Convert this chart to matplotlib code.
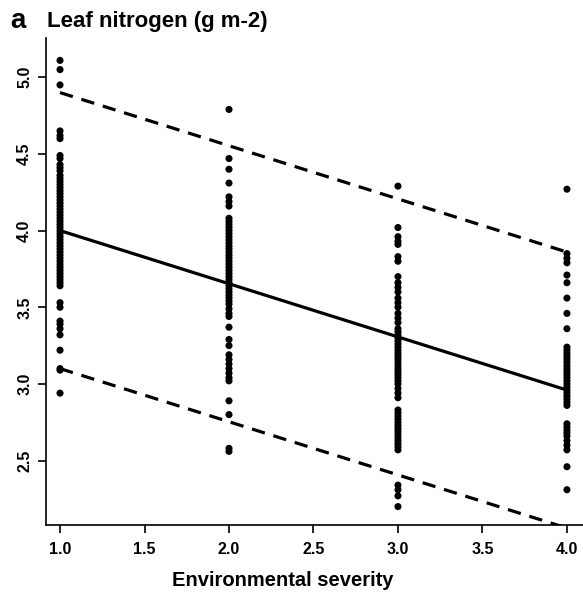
import matplotlib
matplotlib.use("Agg")
import matplotlib.pyplot as plt
import numpy as np

plt.rcParams["font.family"] = ["Liberation Sans", "DejaVu Sans"]
plt.rcParams["font.weight"] = "bold"

# leaf nitrogen (g m-2) per environmental severity class
sev_1 = [5.11, 5.05, 4.95, 4.65, 4.62, 4.60, 4.49, 4.47,
         4.43, 4.41, 4.39, 4.36, 4.34, 4.32, 4.30, 4.28, 4.26, 4.24,
         4.22, 4.20, 4.18, 4.16, 4.14, 4.12, 4.10, 4.08, 4.06, 4.04,
         4.02, 4.00, 3.98, 3.96, 3.94, 3.92, 3.90, 3.88, 3.86, 3.84,
         3.82, 3.80, 3.78, 3.76, 3.74, 3.72, 3.70, 3.68, 3.66, 3.64,
         3.53, 3.50, 3.41, 3.39, 3.36, 3.32, 3.22, 3.10, 3.09, 2.94]
sev_2 = [4.79, 4.47, 4.40, 4.31, 4.22, 4.19, 4.16,
         4.08, 4.06, 4.04, 4.02, 4.00, 3.98, 3.96, 3.94, 3.92, 3.90,
         3.88, 3.86, 3.84, 3.82, 3.80, 3.78, 3.76, 3.74, 3.72, 3.70,
         3.68, 3.66, 3.64, 3.62, 3.60, 3.58, 3.56, 3.54, 3.52, 3.49,
         3.46, 3.44, 3.37, 3.29, 3.25, 3.19, 3.16, 3.13, 3.10, 3.07,
         3.04, 3.02, 2.89, 2.80, 2.58, 2.56]
sev_3 = [4.29, 4.02, 3.96, 3.93, 3.91, 3.83, 3.80,
         3.70, 3.66, 3.63, 3.60, 3.56, 3.53, 3.50, 3.46, 3.43, 3.40,
         3.36, 3.34, 3.32, 3.30, 3.28, 3.26, 3.24, 3.22, 3.20, 3.18,
         3.16, 3.14, 3.12, 3.10, 3.08, 3.06, 3.04, 3.02, 3.00, 2.97,
         2.94, 2.91, 2.83, 2.81, 2.79, 2.77, 2.75, 2.73, 2.71, 2.69,
         2.67, 2.65, 2.63, 2.61, 2.59, 2.57, 2.34, 2.31, 2.27, 2.20]
sev_4 = [4.27, 3.85, 3.82, 3.79, 3.71, 3.66, 3.56, 3.46, 3.36,
         3.24, 3.22, 3.20, 3.18, 3.16, 3.14, 3.12, 3.10, 3.08, 3.06,
         3.04, 3.02, 3.00, 2.98, 2.96, 2.94, 2.92, 2.90, 2.88, 2.86,
         2.74, 2.72, 2.70, 2.68, 2.66, 2.63, 2.60, 2.57, 2.46, 2.31]
groups = [1.0, 2.0, 3.0, 4.0]

# fitted line and prediction band at the ends
fit_x = [1.0, 4.0]
fit_mid = [4.00, 2.96]
fit_upper = [4.90, 3.86]
fit_lower = [3.10, 2.06]

fig = plt.figure(figsize=(5.83, 5.96), dpi=100)
ax = fig.add_axes([46 / 583, 71 / 596, 537 / 583, 487 / 596])

for g, vals in zip(groups, [sev_1, sev_2, sev_3, sev_4]):
    ax.scatter(np.full(len(vals), g), vals, s=26, color="black",
               edgecolors="none", zorder=3)

ax.plot(fit_x, fit_mid, color="black", lw=2.3, solid_capstyle="butt")
ax.plot(fit_x, fit_upper, color="black", lw=2.3, dashes=(4.2, 2.8))
ax.plot(fit_x, fit_lower, color="black", lw=2.3, dashes=(4.2, 2.8))

ax.set_xlim(0.917, 4.095)
ax.set_ylim(2.08, 5.256)
ax.set_xticks([1.0, 1.5, 2.0, 2.5, 3.0, 3.5, 4.0])
ax.set_yticks([2.5, 3.0, 3.5, 4.0, 4.5, 5.0])
ax.set_xticklabels(["1.0", "1.5", "2.0", "2.5", "3.0", "3.5", "4.0"])
ax.set_yticklabels(["2.5", "3.0", "3.5", "4.0", "4.5", "5.0"],
                   rotation=90, va="center")
ax.tick_params(direction="out", length=6, width=1.2, labelsize=11.5)
ax.tick_params(axis="x", pad=6)
ax.tick_params(axis="y", pad=4)

for side in ["top", "right"]:
    ax.spines[side].set_visible(False)
for side in ["left", "bottom"]:
    ax.spines[side].set_linewidth(1.2)

# x label centred on the visible part of the original plot
fig.text(283 / 583, 1 - 580 / 596, "Environmental severity", fontsize=14.5,
         fontweight="bold", ha="center", va="center")
fig.text(10 / 583, 1 - 21 / 596, "a", fontsize=20, fontweight="bold",
         va="center", ha="left")
fig.text(47 / 583, 1 - 21 / 596, "Leaf nitrogen (g m-2)", fontsize=16,
         fontweight="bold", va="center", ha="left")

fig.savefig("out.png", dpi=100)
